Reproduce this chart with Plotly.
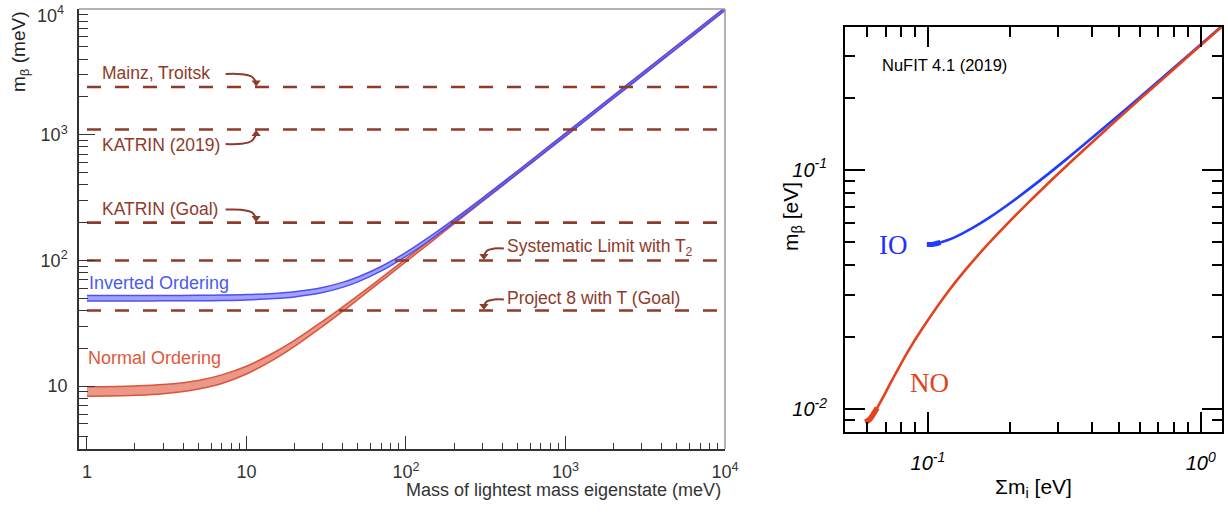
import numpy as np
import plotly.graph_objects as go

# ---------------- Left panel data (meV) ----------------
m_light = [1, 2, 3, 5, 7, 10, 15, 20, 30, 40, 50, 70, 100, 150, 200, 300, 500, 700,
           1000, 2000, 3000, 5000, 7000, 10000]
no_low = [8.3, 8.45, 8.7, 9.5, 10.5, 12.5, 16.4, 20.7, 29.9, 39.3, 49.0, 68.5, 97.7,
          146.5, 195.5, 293, 488, 683, 976, 1952, 2928, 4880, 6832, 9760]
no_high = [9.9, 10.05, 10.3, 11.1, 12.3, 14.4, 18.6, 23.1, 32.8, 42.6, 52.6, 72.6, 103.0,
           154.0, 205.0, 307, 512, 717, 1024, 2048, 3072, 5120, 7168, 10240]
io_low = [47.6, 47.6, 47.7, 47.8, 48.0, 48.5, 49.7, 51.3, 55.6, 61.1, 67.6, 82.5, 107.8,
          153.0, 200.0, 296, 490, 684, 976, 1951, 2926, 4877, 6828, 9755]
io_high = [52.6, 52.6, 52.7, 52.8, 53.0, 53.5, 54.7, 56.4, 61.0, 66.9, 73.8, 89.5, 115.8,
           163.2, 212.4, 312, 515, 719, 1026, 2051, 3076, 5127, 7178, 10255]

limit_names = ["Mainz, Troitsk", "KATRIN (2019)", "KATRIN (Goal)",
               "Systematic Limit with T<sub>2</sub>", "Project 8 with T (Goal)"]
limit_values = [2400, 1100, 200, 100, 40]

# ---------------- Right panel data (eV) ----------------
sum_no = [0.0590, 0.0609, 0.0622, 0.0652, 0.0695, 0.0742, 0.0845, 0.0957, 0.1195, 0.1449,
          0.1714, 0.2265, 0.312, 0.4583, 0.606, 0.9043, 1.203]
mb_no = [0.00880, 0.0090, 0.00927, 0.0101, 0.01154, 0.0133, 0.01738, 0.0218, 0.0313, 0.041,
         0.0508, 0.0705, 0.1004, 0.1503, 0.2002, 0.3001, 0.4001]
sum_io = [0.0992, 0.1018, 0.1047, 0.1112, 0.1186, 0.127, 0.1459, 0.1674, 0.1908, 0.2416,
          0.3232, 0.466, 0.612, 0.908, 1.206]
mb_io = [0.0487, 0.04875, 0.0489, 0.0497, 0.0509, 0.0526, 0.0572, 0.063, 0.0698, 0.0853,
         0.1112, 0.1578, 0.2058, 0.3039, 0.4029]

# ---------------- Layout constants ----------------
W, H = 1228, 515
SANS = "Liberation Sans, Arial, Helvetica, sans-serif"
SERIF = "Liberation Serif, Times New Roman, serif"
BROWN = "#8e3b2b"
IO_EDGE, IO_FILL = "#4f4ff2", "rgba(100,100,255,0.6)"
NO_EDGE, NO_FILL = "#d9553b", "rgba(228,118,96,0.75)"

L_XDOM = [79 / W, 725 / W]
L_YDOM = [66 / H, 506 / H]
L_XR = [-0.05, 4.0]
L_YR = [0.5, 4.0005]
R_XDOM = [845 / W, 1222 / W]
R_YDOM = [83 / H, 488 / H]
R_XR = [np.log10(0.0497), np.log10(1.197)]
R_YR = [np.log10(0.00801), np.log10(0.396)]

px_per_dec_y = (L_YDOM[1] - L_YDOM[0]) * H / (L_YR[1] - L_YR[0])

fig = go.Figure()

# ---- Left: bands (NO first, IO on top) ----
for low, high, edge, fill in [(no_low, no_high, NO_EDGE, NO_FILL),
                              (io_low, io_high, IO_EDGE, IO_FILL)]:
    fig.add_trace(go.Scatter(x=m_light, y=low, mode="lines", line=dict(color=edge, width=1.5, shape="spline"),
                             xaxis="x", yaxis="y", showlegend=False, hoverinfo="skip"))
    fig.add_trace(go.Scatter(x=m_light, y=high, mode="lines", line=dict(color=edge, width=1.5, shape="spline"),
                             fill="tonexty", fillcolor=fill, xaxis="x", yaxis="y",
                             showlegend=False, hoverinfo="skip"))

# ---- Left: dashed limit lines ----
for v in limit_values:
    fig.add_trace(go.Scatter(x=[1.0, 9300], y=[v, v], mode="lines",
                             line=dict(color=BROWN, width=2.6, dash="14px,14px"),
                             xaxis="x", yaxis="y", showlegend=False, hoverinfo="skip"))

# ---- Left: labels with curved arrows ----
label_side = ["left", "left", "left", "right", "right"]
label_dy_px = [14, -15.5, 14, 13, 12]
tip_gap_px = 4.5
annotations = []
for name, v, side, dy in zip(limit_names, limit_values, label_side, label_dy_px):
    ly = np.log10(v) + dy / px_per_dec_y
    if side == "left":
        tx, ax0, atip = 1.2, 7.4, 11.5
    else:
        tx, ax0, atip = 420, 411, 308
    annotations.append(dict(x=np.log10(tx), y=ly, xref="x", yref="y", text=name, showarrow=False,
                            xanchor="left", yanchor="middle",
                            font=dict(family=SANS, size=17.5, color=BROWN)))
    sgn = 1 if dy > 0 else -1
    tip_y = np.log10(v) + sgn * tip_gap_px / px_per_dec_y
    start_y = ly - sgn * 1.0 / px_per_dec_y
    lx0, lx1 = np.log10(ax0), np.log10(atip)
    fx = [0, 0.5, 0.85, 1.0]
    fy = [0, 0.02, 0.3, 1.0]
    xs = [10 ** (lx0 + f * (lx1 - lx0)) for f in fx]
    ys = [10 ** (start_y + f * (tip_y - start_y)) for f in fy]
    fig.add_trace(go.Scatter(x=xs, y=ys, mode="lines", line=dict(color=BROWN, width=2, shape="spline"),
                             xaxis="x", yaxis="y", showlegend=False, hoverinfo="skip"))
    fig.add_trace(go.Scatter(x=[xs[-1]], y=[ys[-1]], mode="markers",
                             marker=dict(symbol="triangle-down" if dy > 0 else "triangle-up",
                                         size=8, color=BROWN),
                             xaxis="x", yaxis="y", showlegend=False, hoverinfo="skip"))

annotations.append(dict(x=np.log10(1.0), y=np.log10(66), xref="x", yref="y", text="Inverted Ordering",
                        showarrow=False, xanchor="left", yanchor="middle",
                        font=dict(family=SANS, size=18, color="#4a5af0")))
annotations.append(dict(x=np.log10(0.99), y=np.log10(16.9), xref="x", yref="y", text="Normal Ordering",
                        showarrow=False, xanchor="left", yanchor="middle",
                        font=dict(family=SANS, size=18, color="#e0583a")))

# ---- Right panel curves ----
IO_C, NO_C = "#1f3cff", "#e2421c"
fig.add_trace(go.Scatter(x=sum_io, y=mb_io, mode="lines", line=dict(color=IO_C, width=2.6, shape="spline"),
                         xaxis="x2", yaxis="y2", showlegend=False, hoverinfo="skip"))
fig.add_trace(go.Scatter(x=sum_io[:4], y=mb_io[:4], mode="lines", line=dict(color=IO_C, width=5, shape="spline"),
                         xaxis="x2", yaxis="y2", showlegend=False, hoverinfo="skip"))
fig.add_trace(go.Scatter(x=sum_no, y=mb_no, mode="lines", line=dict(color=NO_C, width=2.6, shape="spline"),
                         xaxis="x2", yaxis="y2", showlegend=False, hoverinfo="skip"))
fig.add_trace(go.Scatter(x=sum_no[:4], y=mb_no[:4], mode="lines", line=dict(color=NO_C, width=5.5, shape="spline"),
                         xaxis="x2", yaxis="y2", showlegend=False, hoverinfo="skip"))

annotations.append(dict(x=np.log10(0.075), y=np.log10(0.0487), xref="x2", yref="y2", text="IO",
                        showarrow=False, font=dict(family=SERIF, size=27, color="#1f2fff")))
annotations.append(dict(x=np.log10(0.1017), y=np.log10(0.01285), xref="x2", yref="y2", text="NO",
                        showarrow=False, font=dict(family=SERIF, size=27, color="#e2421c")))
annotations.append(dict(x=880 / W, y=(H - 65) / H, xref="paper", yref="paper", text="NuFIT 4.1 (2019)",
                        showarrow=False, xanchor="left", yanchor="middle",
                        font=dict(family=SANS, size=16.5, color="black")))

# top y tick label of the left panel, nudged inside the page
annotations.append(dict(x=66 / W, y=(H - 15) / H, xref="paper", yref="paper", text="10<sup>4</sup>",
                        showarrow=False, xanchor="right", yanchor="middle",
                        font=dict(family=SANS, size=18, color="#333")))

# ---- Axis titles ----
annotations.append(dict(x=20 / W, y=(H - 52) / H, xref="paper", yref="paper", text="m<sub>β</sub> (meV)",
                        showarrow=False, textangle=-90, xanchor="center", yanchor="middle",
                        font=dict(family=SANS, size=19, color="#222")))
annotations.append(dict(x=723 / W, y=(H - 490) / H, xref="paper", yref="paper",
                        text="Mass of lightest mass eigenstate (meV)", showarrow=False,
                        xanchor="right", yanchor="middle", font=dict(family=SANS, size=18, color="#333")))
annotations.append(dict(x=1033 / W, y=(H - 488) / H, xref="paper", yref="paper", text="Σm<sub>i</sub> [eV]",
                        showarrow=False, xanchor="center", yanchor="middle",
                        font=dict(family=SANS, size=21, color="black")))
annotations.append(dict(x=792 / W, y=(H - 216) / H, xref="paper", yref="paper", text="m<sub>β</sub> [eV]",
                        showarrow=False, textangle=-90, xanchor="center", yanchor="middle",
                        font=dict(family=SANS, size=21, color="black")))


def minor_vals(lo, hi):
    out = []
    for d in range(lo, hi):
        for k in range(2, 10):
            out.append(k * 10.0 ** d)
    return out


left_tick_font = dict(family=SANS, size=18, color="#333")
right_tick_font = dict(family=SANS, size=20, color="black")

fig.update_layout(
    width=W, height=H, margin=dict(l=0, r=0, t=0, b=0, autoexpand=False),
    paper_bgcolor="white", plot_bgcolor="white",
    showlegend=False,
    annotations=annotations,
    xaxis=dict(type="log", domain=L_XDOM, range=L_XR, anchor="y", automargin=False,
               tickvals=[1, 10, 100, 1000, 10000],
               ticktext=["1", "10", "10<sup>2</sup>", "10<sup>3</sup>", "10<sup>4</sup>"],
               ticks="inside", ticklen=13, tickwidth=1.2, tickcolor="#333",
               minor=dict(tickvals=minor_vals(0, 4), ticks="inside", ticklen=6, tickwidth=1.2, tickcolor="#333"),
               showline=True, linecolor="#333", linewidth=1.5, showgrid=False, zeroline=False,
               tickfont=left_tick_font, ticklabelstandoff=6, ticklabeloverflow="allow"),
    yaxis=dict(type="log", domain=L_YDOM, range=L_YR, anchor="x", automargin=False,
               tickvals=[10, 100, 1000, 10000],
               ticktext=["10", "10<sup>2</sup>", "10<sup>3</sup>", ""],
               ticks="inside", ticklen=16, tickwidth=1.2, tickcolor="#333",
               minor=dict(tickvals=minor_vals(0, 4), ticks="inside", ticklen=9, tickwidth=1.2, tickcolor="#333"),
               showline=True, linecolor="#333", linewidth=1.5, showgrid=False, zeroline=False,
               tickfont=left_tick_font, ticklabelstandoff=6, ticklabeloverflow="allow"),
    xaxis2=dict(type="log", domain=R_XDOM, range=R_XR, anchor="y2", automargin=False,
                tickvals=[0.1, 1], ticktext=["<i>10<sup>-1</sup></i>", "<i>10<sup>0</sup></i>"],
                ticks="inside", ticklen=20, tickwidth=1.5, tickcolor="black",
                minor=dict(tickvals=[v for v in minor_vals(-2, 0) if v > 0.05], ticks="inside",
                           ticklen=10, tickwidth=1.5, tickcolor="black"),
                showline=True, linecolor="black", linewidth=2, mirror="allticks",
                showgrid=False, zeroline=False, tickfont=right_tick_font, ticklabelstandoff=12,
                ticklabeloverflow="allow"),
    yaxis2=dict(type="log", domain=R_YDOM, range=R_YR, anchor="x2", automargin=False,
                tickvals=[0.01, 0.1], ticktext=["<i>10<sup>-2</sup></i>", "<i>10<sup>-1</sup></i>"],
                ticks="inside", ticklen=20, tickwidth=1.5, tickcolor="black",
                minor=dict(tickvals=[v for v in minor_vals(-3, 0) if 0.0085 < v < 0.39], ticks="inside",
                           ticklen=10, tickwidth=1.5, tickcolor="black"),
                showline=True, linecolor="black", linewidth=2, mirror="allticks",
                showgrid=False, zeroline=False, tickfont=right_tick_font, ticklabelstandoff=12,
                ticklabeloverflow="allow"),
    shapes=[
        dict(type="line", xref="x domain", yref="y domain", x0=0, x1=1, y0=1, y1=1,
             line=dict(color="#9a9a9a", width=1.5)),
        dict(type="line", xref="x domain", yref="y domain", x0=1, x1=1, y0=0, y1=1,
             line=dict(color="#9a9a9a", width=1.5)),
    ],
)

fig.write_html("out.html", config={"displayModeBar": False},
               post_script="document.body.style.margin='0';document.body.style.overflow='hidden';")
